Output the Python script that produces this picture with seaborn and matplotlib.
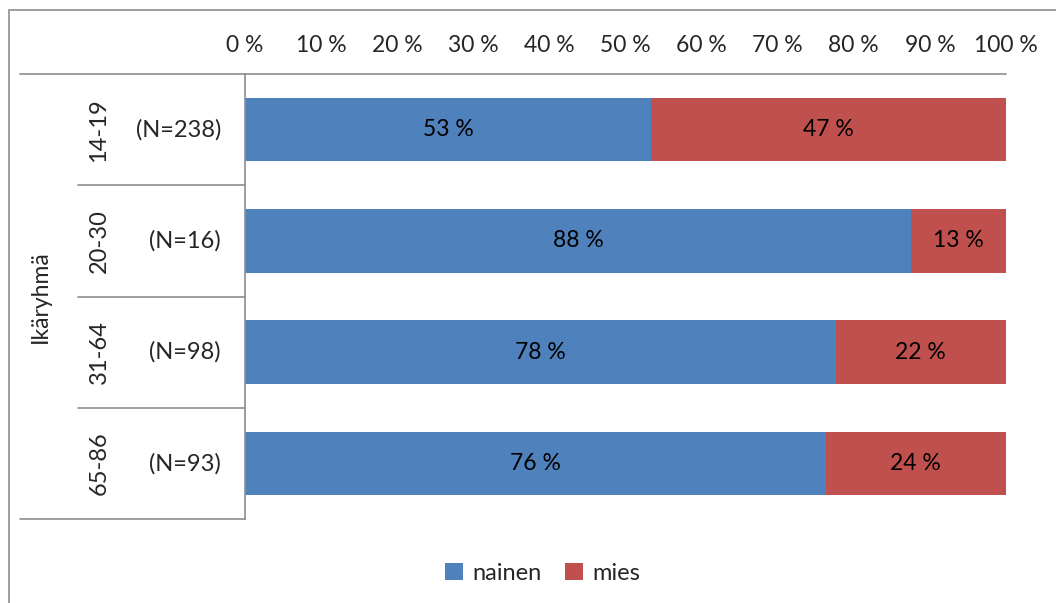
import math
import matplotlib
matplotlib.use("Agg")
import matplotlib.pyplot as plt
from matplotlib.patches import Patch, Rectangle
import seaborn as sns
import pandas as pd

# ---- data ----
age_groups = ["14-19", "20-30", "31-64", "65-86"]
n_labels = ["(N=238)", "(N=16)", "(N=98)", "(N=93)"]
nainen = [53.4, 87.5, 77.6, 76.3]
mies = [46.6, 12.5, 22.4, 23.7]
series_names = ["nainen", "mies"]
x_ticks = [0, 10, 20, 30, 40, 50, 60, 70, 80, 90, 100]
axis_title = "Ikäryhmä"

BLUE = "#4F81BD"
RED = "#C0504D"
GRID = "#8E8E8E"
FONT = "Lato"
FS = 16.5
SP = " "

sns.set_style("white")
plt.rcParams["font.family"] = [FONT, "DejaVu Sans"]

df = pd.DataFrame({"group": age_groups, "nainen": nainen, "mies": mies})
df["total"] = df["nainen"] + df["mies"]

W, H = 1056, 603
fig = plt.figure(figsize=(W / 100, H / 100), dpi=100)

# outer chart frame (cropped at right/bottom like the reference)
fig.patches.append(Rectangle((9 / W, -0.1), 1.2, 1 - 10 / H + 0.1, transform=fig.transFigure,
                             fill=False, edgecolor=GRID, linewidth=1.2, zorder=0))

ax = fig.add_axes([245 / W, 1 - 519 / H, 761 / W, 445 / H])

sns.barplot(data=df, x="total", y="group", orient="h", color=RED, width=0.57,
            saturation=1, ax=ax, edgecolor="none")
sns.barplot(data=df, x="nainen", y="group", orient="h", color=BLUE, width=0.57,
            saturation=1, ax=ax, edgecolor="none")

ax.set_xlim(0, 100)
ax.set_ylim(3.5, -0.5)
ax.set_xlabel("")
ax.set_ylabel("")
ax.xaxis.tick_top()
ax.set_xticks(x_ticks)
ax.set_xticklabels([f"{t}{SP}%" for t in x_ticks], fontsize=FS)
ax.tick_params(axis="x", length=0, pad=13)
ax.set_yticks([])
for s in ["top", "right", "bottom"]:
    ax.spines[s].set_visible(False)
ax.spines["left"].set_color(GRID)
ax.spines["left"].set_linewidth(1.2)


def rnd(v):
    return int(math.floor(v + 0.5))


# data labels
for i, (a, b) in enumerate(zip(nainen, mies)):
    ax.text(a / 2, i, f"{rnd(a)}{SP}%", ha="center", va="center", fontsize=FS, color="black")
    ax.text(a + b / 2, i, f"{rnd(b)}{SP}%", ha="center", va="center", fontsize=FS, color="black")

# multi-level category axis lines
tr = ax.get_yaxis_transform()
x_outer = (20 - 245) / 761
x_inner = (78 - 245) / 761
ax.plot([x_outer, 1], [-0.5, -0.5], transform=tr, color=GRID, lw=1.2, clip_on=False)
ax.plot([x_outer, 0], [3.5, 3.5], transform=tr, color=GRID, lw=1.2, clip_on=False)
for y in [0.5, 1.5, 2.5]:
    ax.plot([x_inner, 0], [y, y], transform=tr, color=GRID, lw=1.2, clip_on=False)

x_age = (99 - 245) / 761
x_n = (221 - 245) / 761
for i, (g, n) in enumerate(zip(age_groups, n_labels)):
    ax.text(x_age, i, g, transform=tr, rotation=90, ha="center", va="center", fontsize=FS + 0.5)
    ax.text(x_n, i, n, transform=tr, ha="right", va="center", fontsize=FS + 0.5)

ax.text((40 - 245) / 761, 1.5, axis_title, transform=tr, rotation=90,
        ha="center", va="center", fontsize=FS)

handles = [Patch(facecolor=BLUE, edgecolor="none"), Patch(facecolor=RED, edgecolor="none")]
fig.legend(handles, series_names, loc="center", bbox_to_anchor=(543 / W, 1 - 573 / H),
           ncol=2, frameon=False, fontsize=FS + 0.5, handlelength=0.75, handleheight=0.75,
           handletextpad=0.4, columnspacing=1.0)

fig.savefig("out.png", dpi=100)
